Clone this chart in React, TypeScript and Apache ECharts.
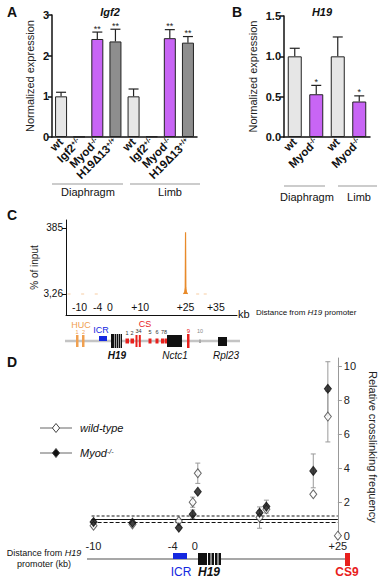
import React, { useEffect, useRef } from 'react';
import * as echarts from 'echarts';

const FONT = "'Liberation Sans', Arial, Helvetica, sans-serif";

// ---------- Panel A (Igf2) ----------
const A_CATEGORIES = ['wt', 'Igf2+/-', 'Myod-/-', 'H19Δ13+/+', 'wt', 'Igf2+/-', 'Myod-/-', 'H19Δ13+/+'];
const A_VALUES = [1.0, 0.01, 2.41, 2.35, 1.0, 0.015, 2.43, 2.32];
const A_ERRORS = [0.1, 0, 0.17, 0.3, 0.18, 0, 0.21, 0.15];
const A_STARS = ['', '', '**', '**', '', '', '**', '**'];
const A_TICKS = [0, 1, 2, 3];
const A_GROUPS = ['Diaphragm', 'Limb'];

// ---------- Panel B (H19) ----------
const B_CATEGORIES = ['wt', 'Myod-/-', 'wt', 'Myod-/-'];
const B_VALUES = [1.0, 0.53, 1.0, 0.44];
const B_ERRORS = [0.1, 0.11, 0.24, 0.07];
const B_STARS = ['', '*', '', '*'];
const B_GROUPS = ['Diaphragm', 'Limb'];

// ---------- Panel C (% of input) ----------
const C_TICKS_KB = [-10, -4, 0, 10, 25, 35];
const C_Y_TICKS = [3.26, 385];
const C_HUC_KB = [-14, -13, '-', -9.5, -8.5, '-', -5, -4, '-', 28.5, 29.5, '-', 31, 32];
const C_HUC_PCT = [3.26, 3.26, '-', 3.26, 3.26, '-', 3.26, 3.26, '-', 3.26, 3.26, '-', 3.26, 3.26];
const C_PEAK_KB = [24.3, 24.7, 24.9, 25.0, 25.1, 25.3, 25.7];
const C_PEAK_PCT = [3.26, 12, 40, 360, 40, 12, 3.26];

// ---------- Panel D (3C) ----------
const D_TICK_KB = [-10, -4, 0, 25];
const D_TICK_UNITS = [0, 82, 105, 253];
const D_KB = [-10, -7.05, -2.9, -0.4, 0.5, 11.3, 12.5, 20.7, 23.25, 25];
const D_WT = [0.59, 0.67, 0.87, 1.98, 3.69, 1.07, 1.56, 2.45, 7.04, 0];
const D_WT_ERR = [0.08, 0, 0, 0.3, 0.6, 0.63, 0, 0, 1.5, 0];
const D_MYOD_KB = [-10, -7.05, -2.9, -0.4, 0.5, 11.3, 12.5, 20.7, 23.25];
const D_MYOD = [0.81, 0.77, 0.47, 1.27, 2.6, 1.36, 1.72, 3.83, 8.68];
const D_MYOD_ERR = [0.1, 0, 0, 0.25, 0, 0.12, 0.38, 1.0, 1.6];
const D_THRESHOLDS = [1.18, 0.97, 0.81];
const D_Y_TICKS = [0, 2, 4, 6, 8, 10];

const GENO_COLORS: Record<string, string> = {
  wt: '#e6e6e6',
  Igf2: '#ececec',
  Myod: '#c865f5',
  H19: '#8e8e8e',
};
const colorFor = (name: string) => {
  if (name.startsWith('Igf2')) return GENO_COLORS.Igf2;
  if (name.startsWith('Myod')) return GENO_COLORS.Myod;
  if (name.startsWith('H19')) return GENO_COLORS.H19;
  return GENO_COLORS.wt;
};

const genoRich = (name: string) => {
  const m = name.match(/^(.*?)([+-]\/[+-])$/);
  if (!m) return `{b|${name}}`;
  return `{b|${m[1]}}{s|${m[2]}}`;
};
const catRich = {
  b: { fontFamily: FONT, fontWeight: 'bold', fontSize: 11.5, color: '#111' },
  s: { fontFamily: FONT, fontWeight: 'bold', fontSize: 7, color: '#111', verticalAlign: 'top' },
};

const kbToUnits = (kb: number) => {
  for (let i = 0; i < D_TICK_KB.length - 1; i++) {
    const k0 = D_TICK_KB[i], k1 = D_TICK_KB[i + 1];
    if (kb <= k1 || i === D_TICK_KB.length - 2) {
      const u0 = D_TICK_UNITS[i], u1 = D_TICK_UNITS[i + 1];
      return u0 + ((kb - k0) / (k1 - k0)) * (u1 - u0);
    }
  }
  return 0;
};

const makeBarErr = (stars: string[], capHalf: number) => (params: any, api: any) => {
  const idx = params.dataIndex;
  const x = api.value(0), v = api.value(1), e = api.value(2);
  const base = api.coord([x, v]);
  const top = api.coord([x, v + e]);
  const children: any[] = [];
  if (e > 0) {
    children.push({ type: 'line', shape: { x1: base[0], y1: base[1], x2: top[0], y2: top[1] }, style: { stroke: '#222', lineWidth: 1.2 } });
    children.push({ type: 'line', shape: { x1: top[0] - capHalf, y1: top[1], x2: top[0] + capHalf, y2: top[1] }, style: { stroke: '#222', lineWidth: 1.2 } });
  }
  if (stars[idx]) {
    children.push({ type: 'text', style: { text: stars[idx], x: top[0], y: top[1] + 1, align: 'center', verticalAlign: 'bottom', font: `9px ${FONT}`, fill: '#222' } });
  }
  return { type: 'group', children };
};

const dErrRender = (params: any, api: any) => {
  const x = api.value(0), v = api.value(1), e = api.value(2);
  if (!(e > 0)) return { type: 'group', children: [] };
  const lo = api.coord([x, v - e]);
  const hi = api.coord([x, v + e]);
  const st = { stroke: '#9a9a9a', lineWidth: 1 };
  return {
    type: 'group',
    children: [
      { type: 'line', shape: { x1: lo[0], y1: lo[1], x2: hi[0], y2: hi[1] }, style: st },
      { type: 'line', shape: { x1: lo[0] - 2.5, y1: lo[1], x2: lo[0] + 2.5, y2: lo[1] }, style: st },
      { type: 'line', shape: { x1: hi[0] - 2.5, y1: hi[1], x2: hi[0] + 2.5, y2: hi[1] }, style: st },
    ],
  };
};

const txt = (text: string, x: number, y: number, opts: any = {}) => ({
  type: 'text',
  z: 50,
  style: {
    text,
    x,
    y,
    align: opts.align || 'left',
    verticalAlign: opts.verticalAlign || 'middle',
    font: opts.font || `10px ${FONT}`,
    fill: opts.fill || '#111',
    rich: opts.rich,
  },
});
const rect = (x: number, y: number, w: number, h: number, fill: string) => ({
  type: 'rect', z: 40, shape: { x, y, width: w, height: h }, style: { fill },
});
const hline = (x1: number, x2: number, y: number, stroke: string, lw = 1) => ({
  type: 'line', z: 30, shape: { x1, y1: y, x2, y2: y }, style: { stroke, lineWidth: lw },
});
const vline = (x: number, y1: number, y2: number, stroke: string, lw = 1) => ({
  type: 'line', z: 45, shape: { x1: x, y1, x2: x, y2 }, style: { stroke, lineWidth: lw },
});
const diamond = (cx: number, cy: number, fill: string) => ({
  type: 'polygon', z: 50,
  shape: { points: [[cx, cy - 4.5], [cx + 3.6, cy], [cx, cy + 4.5], [cx - 3.6, cy]] },
  style: { fill, stroke: '#444', lineWidth: 1 },
});

const ORANGE = '#f0a050';
const RED = '#e8201c';
const BLUE = '#1428e0';

function buildGraphics() {
  const g: any[] = [];
  // panel letters
  g.push(txt('A', 7, 12, { font: `bold 14px ${FONT}` }));
  g.push(txt('B', 232, 12, { font: `bold 14px ${FONT}` }));
  g.push(txt('C', 7, 215, { font: `bold 14px ${FONT}` }));
  g.push(txt('D', 7, 362, { font: `bold 14px ${FONT}` }));
  // titles
  g.push(txt('Igf2', 110, 12, { align: 'center', font: `italic bold 11px ${FONT}` }));
  g.push(txt('H19', 322, 12, { align: 'center', font: `italic bold 11px ${FONT}` }));
  // A group labels
  g.push(hline(52, 123, 184, '#999'));
  g.push(hline(130, 200, 184, '#999'));
  g.push(txt(A_GROUPS[0], 88, 192, { align: 'center', font: `11px ${FONT}` }));
  g.push(txt(A_GROUPS[1], 170, 192, { align: 'center', font: `11px ${FONT}` }));
  // B group labels
  g.push(hline(284, 325, 186, '#999'));
  g.push(hline(338, 377, 186, '#999'));
  g.push(txt(B_GROUPS[0], 307, 197, { align: 'center', font: `11px ${FONT}` }));
  g.push(txt(B_GROUPS[1], 359, 197, { align: 'center', font: `11px ${FONT}` }));

  // C axis annotations
  g.push(txt('kb', 238, 314, { font: `11px ${FONT}` }));
  g.push(txt('{n|Distance from }{i|H19}{n| promoter}', 256, 312, {
    rich: {
      n: { fontFamily: FONT, fontSize: 8, color: '#111' },
      i: { fontFamily: FONT, fontSize: 8, fontStyle: 'italic', color: '#111' },
    },
  }));
  // C gene map
  g.push(hline(65, 240, 341, '#c4c4c4', 2.5));
  g.push(txt('HUC', 81, 325, { align: 'center', font: `9px ${FONT}`, fill: ORANGE }));
  g.push(rect(76, 335, 2.5, 12, ORANGE));
  g.push(rect(82, 335, 2.5, 12, ORANGE));
  g.push(txt('1', 77, 332, { align: 'center', font: `5.5px ${FONT}`, fill: ORANGE }));
  g.push(txt('2', 83.5, 332, { align: 'center', font: `5.5px ${FONT}`, fill: ORANGE }));
  g.push(txt('ICR', 101, 330, { align: 'center', font: `9px ${FONT}`, fill: BLUE }));
  g.push(rect(99, 336, 8, 5, BLUE));
  g.push(rect(111, 334, 11, 14, '#111'));
  [114.5, 116.5, 118.5, 120.5].forEach((x) => g.push(vline(x, 334, 348, '#fff', 0.6)));
  g.push(txt('H19', 117, 355, { align: 'center', font: `italic bold 10px ${FONT}` }));
  g.push(txt('CS', 145, 324, { align: 'center', font: `9px ${FONT}`, fill: RED }));
  g.push(rect(125.5, 338.5, 3.5, 5, RED));
  g.push(rect(130.5, 338.5, 3.5, 5, RED));
  g.push(rect(135.5, 335, 2, 12, RED));
  g.push(rect(138.8, 335, 2, 12, RED));
  g.push(rect(148.5, 338.5, 3, 5, RED));
  g.push(rect(155.5, 338.5, 3, 5, RED));
  g.push(rect(161, 338.5, 3, 5, RED));
  g.push(rect(164.5, 338.5, 2.5, 5, RED));
  g.push(txt('1', 127, 333, { align: 'center', font: `5.5px ${FONT}`, fill: '#333' }));
  g.push(txt('2', 132, 333, { align: 'center', font: `5.5px ${FONT}`, fill: '#333' }));
  g.push(txt('34', 138.5, 331, { align: 'center', font: `5.5px ${FONT}`, fill: '#333' }));
  g.push(txt('5', 150, 332, { align: 'center', font: `5.5px ${FONT}`, fill: '#333' }));
  g.push(txt('6', 157, 332, { align: 'center', font: `5.5px ${FONT}`, fill: '#333' }));
  g.push(txt('78', 164, 332, { align: 'center', font: `5.5px ${FONT}`, fill: '#333' }));
  g.push(rect(167, 335, 15, 12, '#111'));
  g.push(txt('Nctc1', 175, 355, { align: 'center', font: `italic 10px ${FONT}` }));
  g.push(rect(187, 334, 2.5, 14, RED));
  g.push(txt('9', 188.3, 331, { align: 'center', font: `6px ${FONT}`, fill: RED }));
  g.push(rect(199, 339.5, 2, 3.5, '#aaa'));
  g.push(txt('10', 200, 331, { align: 'center', font: `5.5px ${FONT}`, fill: '#888' }));
  g.push(rect(218, 337, 9, 9, '#111'));
  g.push(txt('Rpl23', 226, 355, { align: 'center', font: `italic 10px ${FONT}` }));

  // D legend
  g.push(hline(40, 72, 428, '#666'));
  g.push(diamond(56, 428, '#fff'));
  g.push(txt('wild-type', 80, 428, { font: `italic 11px ${FONT}` }));
  g.push(hline(40, 72, 453, '#666'));
  g.push(diamond(56, 453, '#111'));
  g.push(txt('{i|Myod}{s|-/-}', 80, 453, {
    rich: {
      i: { fontFamily: FONT, fontSize: 11, fontStyle: 'italic', color: '#111' },
      s: { fontFamily: FONT, fontSize: 7, fontStyle: 'italic', color: '#111', verticalAlign: 'top' },
    },
  }));
  // D gene map
  g.push(hline(87, 347, 559, '#8a8a8a', 1.5));
  g.push(rect(173, 553, 14, 6, BLUE));
  g.push(rect(198, 553, 23, 12, '#111'));
  [207.5, 211, 214.5, 218].forEach((x) => g.push(vline(x, 553, 565, '#fff', 1)));
  g.push(rect(345, 553, 5, 13, RED));
  g.push(txt('ICR', 181, 572, { align: 'center', font: `12px ${FONT}`, fill: BLUE }));
  g.push(txt('H19', 209, 572, { align: 'center', font: `italic bold 12px ${FONT}` }));
  g.push(txt('CS9', 347, 572, { align: 'center', font: `bold 12px ${FONT}`, fill: RED }));
  g.push(txt('{n|Distance from }{i|H19}', 44, 553, {
    align: 'center',
    rich: {
      n: { fontFamily: FONT, fontSize: 9, color: '#111' },
      i: { fontFamily: FONT, fontSize: 9, fontStyle: 'italic', color: '#111' },
    },
  }));
  g.push(txt('promoter (kb)', 44, 564, { align: 'center', font: `9px ${FONT}` }));
  return g;
}

export default function App() {
  const ref = useRef<HTMLDivElement>(null);
  useEffect(() => {
    if (!ref.current) return;
    const chart = echarts.init(ref.current, undefined, { renderer: 'svg' });

    const axisBlack = { show: true, onZero: false, lineStyle: { color: '#111', width: 1.5 } };

    const option: any = {
      animation: false,
      backgroundColor: '#fff',
      textStyle: { fontFamily: FONT },
      grid: [
        { left: 52, top: 15, width: 145, height: 122 },
        { left: 284, top: 16, width: 86, height: 121 },
        { left: 66, top: 220, width: 171, height: 95 },
        { left: 80, top: 358, width: 267, height: 177.7 },
      ],
      xAxis: [
        {
          type: 'category', gridIndex: 0, data: A_CATEGORIES,
          axisLine: axisBlack, axisTick: { show: false },
          axisLabel: { rotate: 45, margin: 3, interval: 0, formatter: genoRich, rich: catRich },
        },
        {
          type: 'category', gridIndex: 1, data: B_CATEGORIES,
          axisLine: axisBlack, axisTick: { show: false },
          axisLabel: { rotate: 45, margin: 3, interval: 0, formatter: genoRich, rich: catRich },
        },
        {
          type: 'value', gridIndex: 2, min: -14.5, max: 42,
          axisLine: { show: true, onZero: false, lineStyle: { color: '#111', width: 1 } },
          axisTick: { show: false },
          splitLine: { show: false },
          axisLabel: {
            inside: true, margin: 3, customValues: C_TICKS_KB,
            formatter: (v: number) => (v > 0 ? '+' + v : String(v)),
            fontSize: 10.5, color: '#111', fontFamily: FONT,
          },
        },
        {
          type: 'value', gridIndex: 3, min: -14, max: 253,
          axisLine: { show: false, onZero: false }, axisTick: { show: false }, splitLine: { show: false },
          axisLabel: {
            margin: 5, customValues: D_TICK_UNITS,
            formatter: (v: number) => {
              const i = D_TICK_UNITS.indexOf(v);
              const kb = i >= 0 ? D_TICK_KB[i] : v;
              return kb > 0 ? '+' + kb : String(kb);
            },
            fontSize: 11, color: '#222', fontFamily: FONT,
          },
        },
      ],
      yAxis: [
        {
          type: 'value', gridIndex: 0, min: 0, max: 3, interval: 1,
          axisLine: axisBlack, axisTick: { show: true, length: 4, lineStyle: { color: '#111', width: 1.5 }, customValues: A_TICKS },
          splitLine: { show: false },
          axisLabel: { fontWeight: 'bold', fontSize: 11, color: '#111', margin: 3, customValues: A_TICKS },
          name: 'Normalized expression', nameLocation: 'middle', nameGap: 17,
          nameTextStyle: { fontSize: 11, color: '#222', fontFamily: FONT },
        },
        {
          type: 'value', gridIndex: 1, min: 0, max: 1.5, interval: 0.5,
          axisLine: axisBlack, axisTick: { show: true, length: 4, lineStyle: { color: '#111', width: 1.5 } },
          splitLine: { show: false },
          axisLabel: { fontWeight: 'bold', fontSize: 11, color: '#111', margin: 3, formatter: (v: number) => v.toFixed(1) },
          name: 'Normalized expression', nameLocation: 'middle', nameGap: 26,
          nameTextStyle: { fontSize: 11, color: '#222', fontFamily: FONT },
        },
        {
          type: 'value', gridIndex: 2, min: -118.2, max: 431.2,
          axisLine: { show: true, onZero: false, lineStyle: { color: '#111', width: 1 } },
          axisTick: { show: true, length: 4, customValues: C_Y_TICKS, lineStyle: { color: '#111' } },
          splitLine: { show: false },
          axisLabel: {
            customValues: C_Y_TICKS, margin: 3, fontSize: 10, color: '#111',
            formatter: (v: number) => String(v).replace('.', ','),
          },
          name: '% of input', nameLocation: 'middle', nameGap: 26,
          nameTextStyle: { fontSize: 10, color: '#222', fontFamily: FONT },
        },
        {
          type: 'value', gridIndex: 3, position: 'right', min: 0, max: 10.5,
          axisLine: { show: true, onZero: false, lineStyle: { color: '#999', width: 1 } },
          axisTick: { show: true, length: 4, customValues: D_Y_TICKS, lineStyle: { color: '#999' } },
          splitLine: { show: false },
          axisLabel: { customValues: D_Y_TICKS, margin: 6, fontSize: 11, color: '#222' },
          name: 'Relative crosslinking frequency', nameLocation: 'middle', nameRotate: -90, nameGap: 26,
          nameTextStyle: { fontSize: 11, color: '#222', fontFamily: FONT },
        },
      ],
      series: [
        {
          type: 'bar', xAxisIndex: 0, yAxisIndex: 0, barWidth: 12,
          data: A_VALUES.map((v, i) => ({ value: v, itemStyle: { color: colorFor(A_CATEGORIES[i]) } })),
          itemStyle: { borderColor: '#222', borderWidth: 1 },
        },
        {
          type: 'custom', xAxisIndex: 0, yAxisIndex: 0, z: 5,
          renderItem: makeBarErr(A_STARS, 5),
          encode: { x: 0, y: 1 },
          data: A_VALUES.map((v, i) => [i, v, A_ERRORS[i]]),
        },
        {
          type: 'bar', xAxisIndex: 1, yAxisIndex: 1, barWidth: 14,
          data: B_VALUES.map((v, i) => ({ value: v, itemStyle: { color: colorFor(B_CATEGORIES[i]) } })),
          itemStyle: { borderColor: '#222', borderWidth: 1 },
        },
        {
          type: 'custom', xAxisIndex: 1, yAxisIndex: 1, z: 5,
          renderItem: makeBarErr(B_STARS, 5),
          encode: { x: 0, y: 1 },
          data: B_VALUES.map((v, i) => [i, v, B_ERRORS[i]]),
        },
        {
          type: 'line', xAxisIndex: 2, yAxisIndex: 2, symbol: 'none',
          connectNulls: false,
          lineStyle: { color: ORANGE, width: 1.5, opacity: 0.35 },
          data: C_HUC_KB.map((k, i) => (k === '-' ? ['-', '-'] : [k, C_HUC_PCT[i]])),
        },
        {
          type: 'line', xAxisIndex: 2, yAxisIndex: 2, symbol: 'none',
          lineStyle: { color: '#e88a2a', width: 1.2 },
          areaStyle: { color: '#e88a2a', opacity: 1, origin: C_Y_TICKS[0] },
          data: C_PEAK_KB.map((k, i) => [k, C_PEAK_PCT[i]]),
        },
        {
          type: 'line', xAxisIndex: 3, yAxisIndex: 3, symbol: 'none', data: [],
          lineStyle: { opacity: 0 },
          markLine: {
            silent: true, symbol: 'none', label: { show: false },
            data: [
              [{ coord: [-2, D_THRESHOLDS[0]], lineStyle: { color: '#8c8c8c', width: 1.8, type: [3, 2] } }, { coord: [253, D_THRESHOLDS[0]] }],
              [{ coord: [-2, D_THRESHOLDS[1]], lineStyle: { color: '#111', width: 1, type: 'solid' } }, { coord: [253, D_THRESHOLDS[1]] }],
              [{ coord: [-2, D_THRESHOLDS[2]], lineStyle: { color: '#111', width: 1, type: [4, 2] } }, { coord: [253, D_THRESHOLDS[2]] }],
            ],
          },
        },
        {
          type: 'custom', xAxisIndex: 3, yAxisIndex: 3, z: 3,
          renderItem: dErrRender, encode: { x: 0, y: 1 },
          data: D_KB.map((k, i) => [kbToUnits(k), D_WT[i], D_WT_ERR[i]]),
        },
        {
          type: 'custom', xAxisIndex: 3, yAxisIndex: 3, z: 3,
          renderItem: dErrRender, encode: { x: 0, y: 1 },
          data: D_MYOD_KB.map((k, i) => [kbToUnits(k), D_MYOD[i], D_MYOD_ERR[i]]),
        },
        {
          type: 'scatter', xAxisIndex: 3, yAxisIndex: 3, z: 6,
          symbol: 'diamond', symbolSize: [7, 9],
          itemStyle: { color: '#fff', borderColor: '#444', borderWidth: 1 },
          data: D_KB.map((k, i) => [kbToUnits(k), D_WT[i]]),
        },
        {
          type: 'scatter', xAxisIndex: 3, yAxisIndex: 3, z: 7,
          symbol: 'diamond', symbolSize: [7, 9],
          itemStyle: { color: '#111', borderColor: '#111', borderWidth: 1 },
          data: D_MYOD_KB.map((k, i) => [kbToUnits(k), D_MYOD[i]]),
        },
      ],
      graphic: buildGraphics(),
    };

    chart.setOption(option);
    return () => chart.dispose();
  }, []);

  return <div ref={ref} style={{ position: 'fixed', left: 0, top: 0, width: 386, height: 580 }} />;
}
